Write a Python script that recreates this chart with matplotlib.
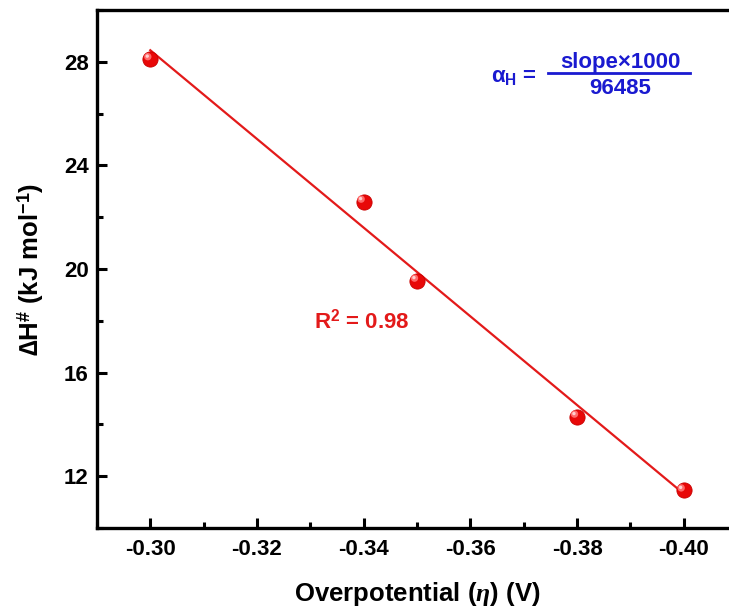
import numpy as np
import matplotlib
matplotlib.use("Agg")
import matplotlib.pyplot as plt
from matplotlib.transforms import offset_copy
from matplotlib.ticker import MultipleLocator

# data
overpotential = [-0.30, -0.34, -0.35, -0.38, -0.40]
delta_h = [28.1, 22.6, 19.55, 14.3, 11.45]
x_ticks = [-0.30, -0.32, -0.34, -0.36, -0.38, -0.40]
y_ticks = [12, 16, 20, 24, 28]

plt.rcParams['font.family'] = ['Liberation Sans', 'DejaVu Sans']
plt.rcParams['font.weight'] = 'bold'
plt.rcParams['mathtext.fontset'] = 'custom'
plt.rcParams['mathtext.rm'] = 'Liberation Sans:bold'
plt.rcParams['mathtext.bf'] = 'Liberation Sans:bold'
plt.rcParams['mathtext.it'] = 'Liberation Serif:italic'

red = '#e31a1a'
blue = '#1a1ad0'

fig = plt.figure(figsize=(7.29, 6.08), dpi=100)
ax = fig.add_axes([0.133, 0.1316, 0.878, 0.852])

# linear fit
slope, intercept = np.polyfit(overpotential, delta_h, 1)
fit_x = np.array([overpotential[0], overpotential[-1]])
ax.plot(fit_x, slope * fit_x + intercept, color=red, lw=1.6, zorder=2)

# sphere-like markers: base ball + highlight
ax.scatter(overpotential, delta_h, s=120, color='#e80808', edgecolors='#c80000',
           linewidths=0.6, zorder=3)
hl = offset_copy(ax.transData, fig=fig, x=-1.8, y=1.8, units='points')
ax.scatter(overpotential, delta_h, s=28, color='#ff6a6a', edgecolors='none',
           zorder=4, transform=hl)
hl2 = offset_copy(ax.transData, fig=fig, x=-2.2, y=2.2, units='points')
ax.scatter(overpotential, delta_h, s=6, color='#ffd0d0', edgecolors='none',
           zorder=5, transform=hl2)

ax.set_xlim(-0.29, -0.41)
ax.set_ylim(10, 30)
ax.set_xticks(x_ticks)
ax.set_xticklabels([f'{v:.2f}' for v in x_ticks])
ax.set_yticks(y_ticks)
ax.xaxis.set_minor_locator(MultipleLocator(0.01))
ax.yaxis.set_minor_locator(MultipleLocator(2))

for s in ax.spines.values():
    s.set_linewidth(2.4)
ax.tick_params(which='major', direction='in', length=7, width=2.2,
               labelsize=16, pad=8)
ax.tick_params(which='minor', direction='in', length=4, width=2.2)
ax.tick_params(axis='y', pad=6)

ax.set_xlabel(r'Overpotential ($\eta$) (V)', fontsize=18.5, fontweight='bold',
              labelpad=14)
ax.set_ylabel('\u2206' + r'H$^{\#}$ (kJ mol$^{-1}$)', fontsize=18.5,
              fontweight='bold', labelpad=13)

ax.text(-0.3397, 18.0, r'R$^2$ = 0.98', color=red, fontsize=16,
        fontweight='bold', ha='center', va='center')

# formula
ax.text(-0.3682, 27.45, r'α$_{\mathrm{H}}$ =', color=blue, fontsize=16,
        fontweight='bold', ha='center', va='center')
ax.plot([-0.3746, -0.4012], [27.58, 27.58], color=blue, lw=2.0)
ax.text(-0.3881, 27.98, 'slope×1000', color=blue, fontsize=16,
        fontweight='bold', ha='center', va='center')
ax.text(-0.3881, 26.95, '96485', color=blue, fontsize=16,
        fontweight='bold', ha='center', va='center')

fig.savefig('out.png', dpi=100)
